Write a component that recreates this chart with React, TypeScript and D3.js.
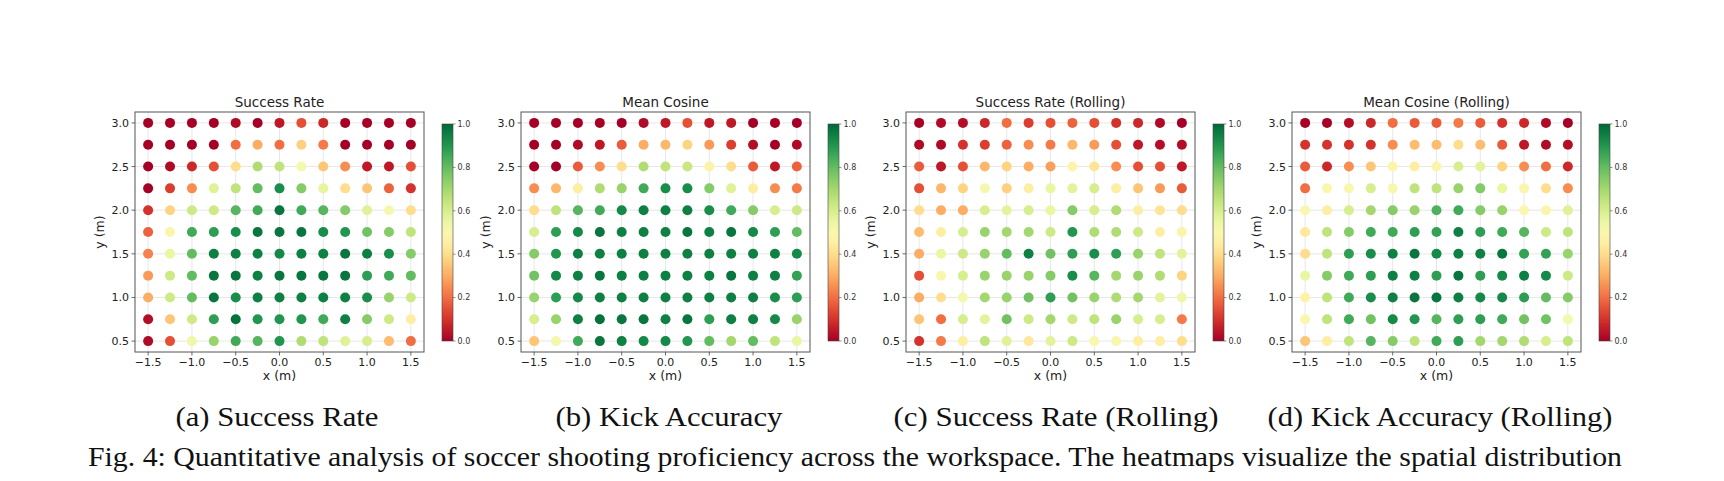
import React from "react";
import * as d3 from "d3";

// Grid of shot positions (m)
const xPositions = [-1.5, -1.25, -1.0, -0.75, -0.5, -0.25, 0.0, 0.25, 0.5, 0.75, 1.0, 1.25, 1.5];
const yPositions = [3.0, 2.75, 2.5, 2.25, 2.0, 1.75, 1.5, 1.25, 1.0, 0.75, 0.5];
const xTicks = [-1.5, -1.0, -0.5, 0.0, 0.5, 1.0, 1.5];
const yTicks = [0.5, 1.0, 1.5, 2.0, 2.5, 3.0];
const cbarTicks = [0.0, 0.2, 0.4, 0.6, 0.8, 1.0];

// Rows follow yPositions (top to bottom), columns follow xPositions
const successRate = [
  [0.0, 0.0, 0.0, 0.0, 0.02, 0.0, 0.05, 0.15, 0.08, 0.0, 0.0, 0.0, 0.0],
  [0.0, 0.0, 0.0, 0.0, 0.2, 0.3, 0.2, 0.37, 0.22, 0.0, 0.0, 0.0, 0.0],
  [0.0, 0.02, 0.08, 0.15, 0.4, 0.68, 0.65, 0.52, 0.35, 0.25, 0.05, 0.05, 0.15],
  [0.0, 0.12, 0.25, 0.58, 0.65, 0.8, 0.92, 0.75, 0.56, 0.4, 0.35, 0.18, 0.1],
  [0.1, 0.38, 0.62, 0.62, 0.82, 0.85, 0.97, 0.85, 0.82, 0.75, 0.58, 0.52, 0.4],
  [0.18, 0.48, 0.85, 0.88, 0.92, 0.97, 0.97, 0.97, 0.92, 0.9, 0.78, 0.75, 0.65],
  [0.23, 0.55, 0.8, 0.95, 0.95, 0.95, 0.93, 0.95, 0.95, 0.97, 0.95, 0.92, 0.75],
  [0.27, 0.62, 0.8, 0.97, 0.97, 0.95, 0.97, 0.97, 0.97, 0.97, 0.88, 0.85, 0.8],
  [0.3, 0.62, 0.8, 0.97, 0.92, 0.95, 0.95, 0.95, 0.95, 0.95, 0.92, 0.72, 0.62],
  [0.03, 0.35, 0.62, 0.88, 0.98, 0.9, 0.9, 0.9, 0.85, 0.95, 0.75, 0.62, 0.45],
  [0.02, 0.15, 0.53, 0.72, 0.85, 0.82, 0.9, 0.68, 0.65, 0.58, 0.6, 0.33, 0.2],
];

const meanCosine = [
  [0.0, 0.0, 0.0, 0.0, 0.0, 0.02, 0.05, 0.15, 0.05, 0.05, 0.0, 0.0, 0.0],
  [0.0, 0.0, 0.02, 0.05, 0.17, 0.3, 0.32, 0.38, 0.27, 0.12, 0.03, 0.0, 0.02],
  [0.0, 0.0, 0.17, 0.25, 0.4, 0.68, 0.65, 0.63, 0.47, 0.4, 0.17, 0.05, 0.18],
  [0.25, 0.32, 0.45, 0.68, 0.72, 0.85, 0.92, 0.92, 0.75, 0.58, 0.45, 0.25, 0.22],
  [0.4, 0.65, 0.82, 0.85, 0.93, 0.95, 0.95, 0.95, 0.92, 0.85, 0.75, 0.6, 0.62],
  [0.6, 0.88, 0.93, 0.97, 0.95, 0.95, 0.95, 0.97, 0.95, 0.97, 0.93, 0.88, 0.8],
  [0.75, 0.9, 0.95, 0.95, 0.95, 0.95, 0.95, 0.95, 0.95, 0.95, 0.95, 0.95, 0.93],
  [0.78, 0.93, 0.95, 0.97, 0.95, 0.95, 0.95, 0.95, 0.95, 0.97, 0.95, 0.95, 0.87],
  [0.72, 0.88, 0.93, 0.95, 0.95, 0.95, 0.95, 0.95, 0.95, 0.95, 0.95, 0.92, 0.88],
  [0.6, 0.72, 0.95, 0.98, 0.97, 0.97, 0.95, 0.97, 0.88, 0.95, 0.95, 0.93, 0.72],
  [0.35, 0.52, 0.85, 0.97, 0.95, 0.93, 0.93, 0.9, 0.8, 0.7, 0.8, 0.65, 0.55],
];

const successRateRolling = [
  [0.0, 0.02, 0.03, 0.08, 0.2, 0.12, 0.15, 0.18, 0.15, 0.1, 0.08, 0.02, 0.0],
  [0.02, 0.02, 0.1, 0.12, 0.18, 0.25, 0.22, 0.32, 0.27, 0.15, 0.05, 0.03, 0.03],
  [0.17, 0.05, 0.15, 0.32, 0.38, 0.3, 0.28, 0.48, 0.42, 0.25, 0.15, 0.15, 0.05],
  [0.15, 0.32, 0.38, 0.52, 0.37, 0.45, 0.55, 0.57, 0.6, 0.45, 0.35, 0.27, 0.17],
  [0.4, 0.3, 0.3, 0.6, 0.57, 0.6, 0.55, 0.75, 0.6, 0.68, 0.45, 0.42, 0.4],
  [0.33, 0.45, 0.6, 0.72, 0.7, 0.7, 0.62, 0.9, 0.68, 0.68, 0.62, 0.45, 0.48],
  [0.3, 0.55, 0.62, 0.72, 0.8, 0.95, 0.78, 0.88, 0.92, 0.88, 0.72, 0.65, 0.57],
  [0.15, 0.5, 0.6, 0.72, 0.72, 0.72, 0.75, 0.92, 0.82, 0.7, 0.72, 0.68, 0.38],
  [0.3, 0.4, 0.52, 0.7, 0.72, 0.78, 0.88, 0.78, 0.72, 0.68, 0.7, 0.57, 0.53],
  [0.35, 0.2, 0.6, 0.57, 0.78, 0.62, 0.7, 0.62, 0.65, 0.72, 0.6, 0.6, 0.22],
  [0.1, 0.22, 0.45, 0.65, 0.58, 0.43, 0.57, 0.62, 0.5, 0.5, 0.45, 0.45, 0.4],
];

const meanCosineRolling = [
  [0.0, 0.0, 0.03, 0.08, 0.2, 0.17, 0.17, 0.22, 0.17, 0.1, 0.08, 0.02, 0.0],
  [0.1, 0.1, 0.1, 0.1, 0.25, 0.33, 0.33, 0.4, 0.33, 0.17, 0.05, 0.02, 0.03],
  [0.17, 0.08, 0.25, 0.35, 0.48, 0.45, 0.48, 0.6, 0.57, 0.38, 0.25, 0.2, 0.08],
  [0.2, 0.5, 0.5, 0.6, 0.5, 0.65, 0.65, 0.72, 0.75, 0.55, 0.5, 0.4, 0.25],
  [0.5, 0.45, 0.6, 0.7, 0.75, 0.72, 0.83, 0.85, 0.75, 0.72, 0.5, 0.48, 0.58],
  [0.43, 0.65, 0.75, 0.85, 0.85, 0.88, 0.87, 0.95, 0.88, 0.85, 0.82, 0.62, 0.65],
  [0.4, 0.65, 0.88, 0.92, 0.95, 0.97, 0.93, 0.95, 0.95, 0.97, 0.87, 0.87, 0.72],
  [0.55, 0.75, 0.85, 0.88, 0.95, 0.95, 0.88, 0.97, 0.88, 0.93, 0.95, 0.93, 0.62],
  [0.47, 0.65, 0.85, 0.92, 0.95, 0.97, 0.97, 0.95, 0.93, 0.93, 0.88, 0.8, 0.75],
  [0.5, 0.65, 0.85, 0.78, 0.93, 0.9, 0.82, 0.88, 0.88, 0.85, 0.78, 0.78, 0.52],
  [0.35, 0.45, 0.65, 0.82, 0.75, 0.65, 0.85, 0.88, 0.7, 0.7, 0.68, 0.6, 0.65],
];

const panelTitles = ["Success Rate", "Mean Cosine", "Success Rate (Rolling)", "Mean Cosine (Rolling)"];
const subCaptions = ["(a) Success Rate", "(b) Kick Accuracy", "(c) Success Rate (Rolling)", "(d) Kick Accuracy (Rolling)"];
const figCaption =
  "Fig. 4: Quantitative analysis of soccer shooting proficiency across the workspace. The heatmaps visualize the spatial distribution";

const panelValues = [successRate, meanCosine, successRateRolling, meanCosineRolling];

const W = 1724;
const H = 481;
const axLefts = [135, 521, 906, 1292];
const axW = 289;
const axTop = 112;
const axBottom = 352;
const captionCenters = [277, 669, 1056, 1440];
const captionWidths = [203, 227, 325, 345];

const sansFont = "'DejaVu Sans', sans-serif";
const serifFont = "'Liberation Serif', 'Times New Roman', serif";

const color = (v: number) => d3.interpolateRdYlGn(v);
const fmt = d3.format(".1f");
const tickFmt = (v: number) => fmt(v).replace("-", "\u2212");

function Panel({ index }: { index: number }) {
  const left = axLefts[index];
  const x = d3.scaleLinear().domain([-1.65, 1.65]).range([left, left + axW]);
  const y = d3.scaleLinear().domain([0.375, 3.125]).range([axBottom, axTop]);
  const values = panelValues[index];

  const cbX = left + 307;
  const cbW = 11;
  const cbTop = 124;
  const cbBottom = 341;
  const cb = d3.scaleLinear().domain([0, 1]).range([cbBottom, cbTop]);
  const gradId = `rdylgn-${index}`;
  const stops = d3.range(0, 1.0001, 0.05);

  return (
    <g>
      <defs>
        <linearGradient id={gradId} x1="0" y1="1" x2="0" y2="0">
          {stops.map((s) => (
            <stop key={s} offset={s} stopColor={color(s)} />
          ))}
        </linearGradient>
      </defs>

      {/* background and grid */}
      <rect x={left} y={axTop} width={axW} height={axBottom - axTop} fill="#fff" />
      {xTicks.map((t) => (
        <line key={`gx${t}`} x1={x(t)} x2={x(t)} y1={axTop} y2={axBottom} stroke="#b0b0b0" strokeOpacity={0.3} strokeWidth={1} />
      ))}
      {yTicks.map((t) => (
        <line key={`gy${t}`} x1={left} x2={left + axW} y1={y(t)} y2={y(t)} stroke="#b0b0b0" strokeOpacity={0.3} strokeWidth={1} />
      ))}

      {/* scatter dots */}
      {values.map((row, ri) =>
        row.map((v, ci) => (
          <circle key={`${ri}-${ci}`} cx={x(xPositions[ci])} cy={y(yPositions[ri])} r={5} fill={color(v)} />
        ))
      )}

      {/* frame */}
      <rect x={left} y={axTop} width={axW} height={axBottom - axTop} fill="none" stroke="#555" strokeWidth={1} />

      {/* x axis ticks */}
      {xTicks.map((t) => (
        <g key={`xt${t}`}>
          <line x1={x(t)} x2={x(t)} y1={axBottom} y2={axBottom + 3.5} stroke="#444" strokeWidth={0.8} />
          <text x={x(t)} y={axBottom + 14} textAnchor="middle" fontFamily={sansFont} fontSize={11} fill="#222">
            {tickFmt(t)}
          </text>
        </g>
      ))}
      {/* y axis ticks */}
      {yTicks.map((t) => (
        <g key={`yt${t}`}>
          <line x1={left - 3.5} x2={left} y1={y(t)} y2={y(t)} stroke="#444" strokeWidth={0.8} />
          <text x={left - 6} y={y(t)} dy="0.36em" textAnchor="end" fontFamily={sansFont} fontSize={11} fill="#222">
            {tickFmt(t)}
          </text>
        </g>
      ))}

      {/* title and axis labels */}
      <text x={left + axW / 2} y={axTop - 5} textAnchor="middle" fontFamily={sansFont} fontSize={13.5} fill="#222">
        {panelTitles[index]}
      </text>
      <text x={left + axW / 2} y={axBottom + 28} textAnchor="middle" fontFamily={sansFont} fontSize={12.5} fill="#222">
        x (m)
      </text>
      <text
        transform={`translate(${left - 31},${(axTop + axBottom) / 2}) rotate(-90)`}
        textAnchor="middle"
        fontFamily={sansFont}
        fontSize={12.5}
        fill="#222"
      >
        y (m)
      </text>

      {/* colorbar */}
      <rect x={cbX} y={cbTop} width={cbW} height={cbBottom - cbTop} fill={`url(#${gradId})`} stroke="#444" strokeWidth={0.6} />
      {cbarTicks.map((t) => (
        <g key={`cb${t}`}>
          <line x1={cbX + cbW} x2={cbX + cbW + 2.5} y1={cb(t)} y2={cb(t)} stroke="#444" strokeWidth={0.6} />
          <text x={cbX + cbW + 4.5} y={cb(t)} dy="0.35em" fontFamily={sansFont} fontSize={8} fill="#333">
            {fmt(t)}
          </text>
        </g>
      ))}

      {/* sub-figure caption */}
      <text
        x={captionCenters[index]}
        y={426}
        textAnchor="middle"
        fontFamily={serifFont}
        fontSize={28}
        fill="#111"
        textLength={captionWidths[index]}
        lengthAdjust="spacingAndGlyphs"
      >
        {subCaptions[index]}
      </text>
    </g>
  );
}

export default function App() {
  return (
    <div style={{ position: "absolute", left: 0, top: 0, width: W, height: H, background: "#fff" }}>
      <svg width={W} height={H} viewBox={`0 0 ${W} ${H}`} style={{ display: "block" }}>
        <rect x={0} y={0} width={W} height={H} fill="#fff" />
        {panelTitles.map((_, i) => (
          <Panel key={i} index={i} />
        ))}
        <text
          x={88}
          y={466}
          fontFamily={serifFont}
          fontSize={28}
          fill="#111"
          textLength={1534}
          lengthAdjust="spacingAndGlyphs"
        >
          {figCaption}
        </text>
      </svg>
    </div>
  );
}
